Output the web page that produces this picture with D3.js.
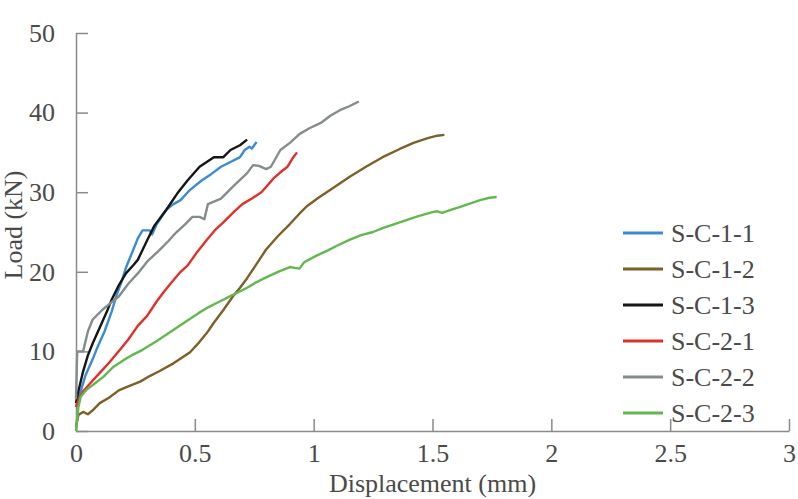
<!DOCTYPE html>
<html>
<head>
<meta charset="utf-8">
<script src="https://cdn.jsdelivr.net/npm/d3@7"></script>
<style>
  body { margin: 0; background: #fff; }
  svg text { font-family: "Liberation Serif", "Times New Roman", serif; fill: #4a4a4a; }
</style>
</head>
<body>
<div id="chart"></div>
<script>
// load-displacement curves, [displacement (mm), load (kN)]
var seriesNames = ["S-C-1-1", "S-C-1-2", "S-C-1-3", "S-C-2-1", "S-C-2-2", "S-C-2-3"];
var seriesColors = ["#3a8bd3", "#7d5f28", "#151515", "#e0302b", "#858c8c", "#62b84e"];

var s11 = [[0,3],[0.02,5],[0.04,7],[0.07,9],[0.09,10.5],[0.12,12.5],[0.15,15],[0.17,17],[0.19,18.6],
  [0.21,20.5],[0.24,22.7],[0.26,24.2],[0.28,25.2],[0.31,25.2],[0.32,24.7],[0.34,26],[0.38,27.8],
  [0.41,28.5],[0.44,29],[0.48,30.3],[0.53,31.5],[0.57,32.3],[0.61,33.2],[0.65,33.8],[0.69,34.4],
  [0.71,35.3],[0.73,35.7],[0.74,35.5],[0.76,36.3]];
var s12 = [[0,0.5],[0.01,2],[0.03,2.4],[0.05,2.1],[0.07,2.6],[0.1,3.5],[0.14,4.2],[0.18,5.1],[0.22,5.6],
  [0.27,6.2],[0.31,6.9],[0.35,7.5],[0.41,8.5],[0.45,9.3],[0.48,9.9],[0.52,11.2],[0.55,12.3],[0.58,13.6],
  [0.62,15.2],[0.66,16.9],[0.69,18],[0.72,19.2],[0.76,21],[0.8,22.8],[0.85,24.5],[0.9,26],[0.94,27.3],
  [0.97,28.2],[1.02,29.3],[1.08,30.5],[1.15,31.9],[1.22,33.2],[1.29,34.4],[1.36,35.4],[1.42,36.2],
  [1.48,36.8],[1.52,37.1],[1.55,37.2]];
var s13 = [[0,3.5],[0.01,5],[0.03,7.5],[0.05,9.5],[0.07,11],[0.1,13],[0.13,15],[0.15,16.5],[0.18,18.3],
  [0.21,19.8],[0.24,20.8],[0.26,21.5],[0.3,24],[0.33,25.8],[0.38,27.8],[0.43,30],[0.47,31.5],[0.52,33.2],
  [0.55,33.8],[0.58,34.4],[0.62,34.4],[0.65,35.3],[0.69,35.9],[0.72,36.6]];
var s21 = [[0,3],[0.01,3.9],[0.03,5],[0.06,6],[0.1,7.3],[0.14,8.6],[0.185,10.2],[0.22,11.5],[0.26,13.2],
  [0.3,14.5],[0.34,16.3],[0.37,17.5],[0.4,18.6],[0.44,20],[0.47,20.8],[0.51,22.5],[0.55,24],[0.59,25.4],
  [0.62,26.2],[0.66,27.4],[0.7,28.5],[0.74,29.2],[0.78,30],[0.81,31],[0.83,31.7],[0.86,32.5],
  [0.89,33.2],[0.91,34.2],[0.93,35]];
var s22 = [[0,4],[0.005,10],[0.03,10],[0.05,12.5],[0.07,14],[0.11,15.2],[0.15,16.2],[0.18,16.9],[0.22,18.5],
  [0.26,19.8],[0.3,21.3],[0.35,22.7],[0.39,23.9],[0.42,24.9],[0.46,26],[0.49,26.9],[0.52,26.9],[0.54,26.6],
  [0.555,28.5],[0.61,29.2],[0.66,30.7],[0.72,32.4],[0.745,33.4],[0.77,33.3],[0.8,32.9],[0.82,33.2],
  [0.86,35.3],[0.9,36.2],[0.94,37.3],[0.98,38],[1.03,38.7],[1.07,39.6],[1.11,40.3],[1.15,40.8],[1.19,41.4]];
var s23 = [[0,0],[0.005,1.5],[0.01,3],[0.02,4.3],[0.045,5.2],[0.08,6],[0.115,6.8],[0.155,8],[0.2,8.9],
  [0.24,9.6],[0.28,10.2],[0.34,11.3],[0.4,12.5],[0.45,13.5],[0.49,14.3],[0.52,14.9],[0.56,15.6],[0.6,16.2],
  [0.66,17.1],[0.72,18],[0.76,18.7],[0.8,19.3],[0.85,20],[0.9,20.6],[0.92,20.5],[0.94,20.4],[0.96,21.2],
  [1.01,22],[1.06,22.7],[1.1,23.3],[1.15,24],[1.2,24.6],[1.25,25],[1.29,25.5],[1.34,26],[1.39,26.5],
  [1.44,27],[1.5,27.5],[1.52,27.6],[1.54,27.4],[1.58,27.8],[1.62,28.2],[1.66,28.6],[1.7,29],[1.74,29.3],
  [1.77,29.4]];
var allSeries = [s11, s12, s13, s21, s22, s23];

var xTicks = [0, 0.5, 1, 1.5, 2, 2.5, 3];
var yTicks = [0, 10, 20, 30, 40, 50];

// overall size and plot box
var width = 798, height = 499;
var margin = {top: 33, right: 9, bottom: 68, left: 76};
var plotW = width - margin.left - margin.right,
    plotH = height - margin.top - margin.bottom;

var svg = d3.select("#chart")
  .append("svg")
  .attr("width", width)
  .attr("height", height);

var g = svg.append("g")
  .attr("transform", "translate(" + margin.left + "," + margin.top + ")");

var x = d3.scaleLinear().domain([0, 3]).range([0, plotW]);
var y = d3.scaleLinear().domain([0, 50]).range([plotH, 0]);

// axes: ticks point into the plot
var xAxis = g.append("g")
  .attr("transform", "translate(0," + plotH + ")")
  .call(d3.axisBottom(x)
    .tickValues(xTicks)
    .tickFormat(d3.format("~g"))
    .tickSizeInner(-12)
    .tickSizeOuter(0)
    .tickPadding(13));

var yAxis = g.append("g")
  .call(d3.axisLeft(y)
    .tickValues(yTicks)
    .tickSizeInner(-12)
    .tickSizeOuter(0)
    .tickPadding(21));

[xAxis, yAxis].forEach(function(a) {
  a.selectAll("path, line").attr("stroke", "#8a8a8a").attr("stroke-width", 1.5);
  a.selectAll("text").attr("font-size", 26).style("font-family", "Liberation Serif, serif").attr("fill", "#4a4a4a");
});
xAxis.selectAll(".tick line").attr("y1", 0).attr("y2", -12);

// axis titles
svg.append("text")
  .attr("x", margin.left + plotW / 2)
  .attr("y", 492)
  .attr("text-anchor", "middle")
  .attr("font-size", 26)
  .text("Displacement (mm)");

svg.append("text")
  .attr("transform", "translate(22," + (margin.top + plotH / 2 - 7) + ") rotate(-90)")
  .attr("text-anchor", "middle")
  .attr("font-size", 26)
  .text("Load (kN)");

// the curves
var line = d3.line()
  .x(function(d) { return x(d[0]); })
  .y(function(d) { return y(d[1]); });

g.selectAll(".curve")
  .data(allSeries)
  .enter()
  .append("path")
    .attr("class", "curve")
    .attr("fill", "none")
    .attr("stroke", function(d, i) { return seriesColors[i]; })
    .attr("stroke-width", 2.4)
    .attr("stroke-linejoin", "round")
    .attr("d", line);

// legend
var legend = svg.append("g").attr("transform", "translate(623,233)");
var item = legend.selectAll(".item")
  .data(seriesNames)
  .enter()
  .append("g")
    .attr("class", "item")
    .attr("transform", function(d, i) { return "translate(0," + (i * 36) + ")"; });

item.append("line")
  .attr("x1", 0).attr("x2", 40)
  .attr("stroke", function(d, i) { return seriesColors[i]; })
  .attr("stroke-width", 3);

item.append("text")
  .attr("x", 48)
  .attr("dy", "0.35em")
  .attr("font-size", 26)
  .text(function(d) { return d; });
</script>
</body>
</html>
